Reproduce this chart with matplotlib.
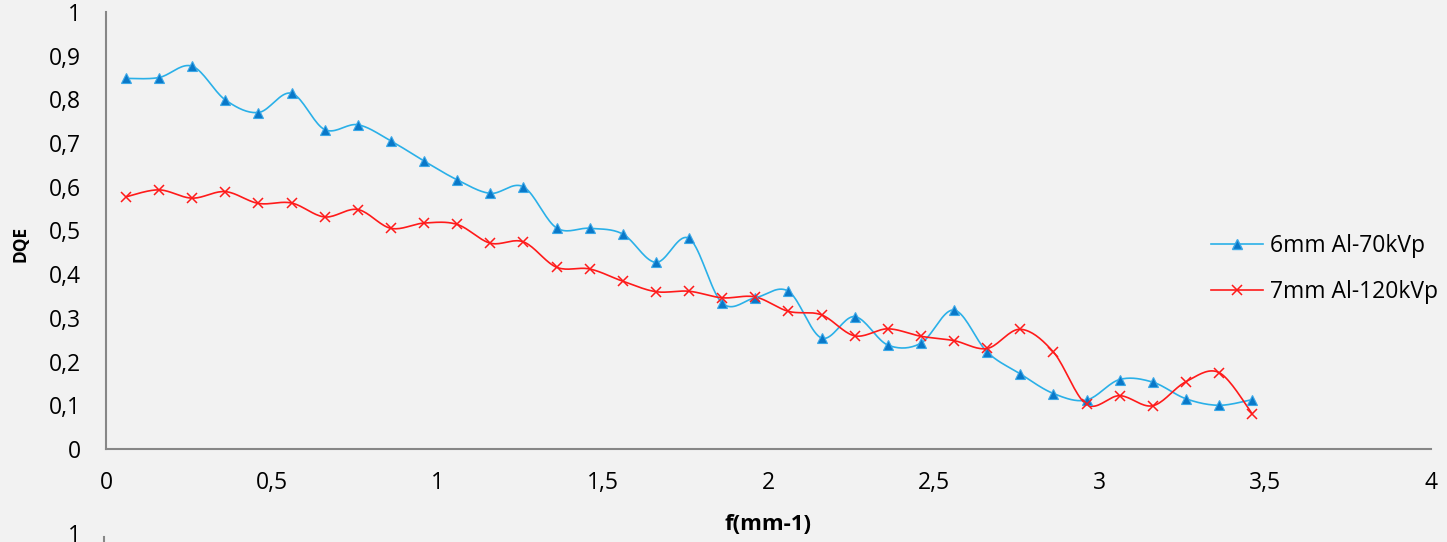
import numpy as np
import matplotlib.pyplot as plt
from matplotlib.lines import Line2D

# spatial frequency (mm-1)
freq = [0.06, 0.16, 0.26, 0.36, 0.46, 0.56, 0.66, 0.76, 0.86, 0.96,
        1.06, 1.16, 1.26, 1.36, 1.46, 1.56, 1.66, 1.76, 1.86, 1.96,
        2.06, 2.16, 2.26, 2.36, 2.46, 2.56, 2.66, 2.76, 2.86, 2.96,
        3.06, 3.16, 3.26, 3.36, 3.46]

dqe_6mm_70kvp = [0.848, 0.850, 0.876, 0.799, 0.770, 0.814, 0.731, 0.742, 0.705, 0.659,
                 0.616, 0.585, 0.600, 0.506, 0.505, 0.492, 0.427, 0.482, 0.334, 0.346,
                 0.361, 0.254, 0.303, 0.238, 0.242, 0.318, 0.222, 0.172, 0.127, 0.112,
                 0.159, 0.153, 0.115, 0.100, 0.113]

dqe_7mm_120kvp = [0.577, 0.593, 0.574, 0.589, 0.562, 0.563, 0.531, 0.548, 0.505, 0.517,
                  0.514, 0.471, 0.474, 0.416, 0.412, 0.384, 0.360, 0.361, 0.346, 0.348,
                  0.315, 0.307, 0.259, 0.275, 0.258, 0.248, 0.230, 0.274, 0.222, 0.102,
                  0.122, 0.099, 0.154, 0.175, 0.081]

series_labels = ["6mm Al-70kVp", "7mm Al-120kVp"]

x_ticks = [0, 0.5, 1, 1.5, 2, 2.5, 3, 3.5, 4]
y_ticks = [0, 0.1, 0.2, 0.3, 0.4, 0.5, 0.6, 0.7, 0.8, 0.9, 1]

BG = "#f2f2f2"
FONT = "Open Sans"


def smooth(x, y, n=20):
    # excel style smoothed line (catmull-rom through the points)
    x = np.asarray(x, float)
    y = np.asarray(y, float)
    px = np.concatenate([[x[0]], x, [x[-1]]])
    py = np.concatenate([[y[0]], y, [y[-1]]])
    t = np.linspace(0, 1, n)[:, None]
    out_x, out_y = [], []
    for i in range(1, len(px) - 2):
        for p, out in ((px, out_x), (py, out_y)):
            p0, p1, p2, p3 = p[i - 1], p[i], p[i + 1], p[i + 2]
            seg = 0.5 * ((2 * p1) + (-p0 + p2) * t + (2 * p0 - 5 * p1 + 4 * p2 - p3) * t ** 2
                         + (-p0 + 3 * p1 - 3 * p2 + p3) * t ** 3)
            out.append(seg.ravel())
    return np.concatenate(out_x), np.concatenate(out_y)


def fmt(v):
    return ("%g" % v).replace(".", ",")


fig = plt.figure(figsize=(14.47, 5.42), dpi=100, facecolor=BG)
ax = fig.add_axes([106 / 1447, 1 - 449 / 542, (1431 - 106) / 1447, (449 - 12) / 542])
ax.set_facecolor(BG)

blue_line = "#2ab0e8"
blue_mark = "#0a78c8"
red = "#ff1a1a"

sx, sy = smooth(freq, dqe_6mm_70kvp)
ax.plot(sx, sy, color=blue_line, lw=1.2, zorder=2)
ax.plot(freq, dqe_6mm_70kvp, ls="none", marker="^", ms=7.5, color=blue_mark,
        mec="#3aa8e8", mew=0.8, zorder=3)

sx, sy = smooth(freq, dqe_7mm_120kvp)
ax.plot(sx, sy, color=red, lw=1.2, zorder=2)
ax.plot(freq, dqe_7mm_120kvp, ls="none", marker="x", ms=7, color=red, mew=1.1, zorder=3)

ax.set_xlim(0, 4)
ax.set_ylim(0, 1)
ax.set_xticks(x_ticks)
ax.set_xticklabels([fmt(v) for v in x_ticks])
ax.set_yticks(y_ticks)
ax.set_yticklabels([fmt(v) for v in y_ticks])
ax.tick_params(length=0, labelsize=16.5, colors="#000000")
ax.tick_params(axis="x", pad=16)
ax.tick_params(axis="y", pad=18)
for lab in ax.get_xticklabels() + ax.get_yticklabels():
    lab.set_family(FONT)

for side in ["top", "right"]:
    ax.spines[side].set_visible(False)
for side in ["left", "bottom"]:
    ax.spines[side].set_color("#878787")
    ax.spines[side].set_linewidth(1.5)
ax.spines["left"].set_zorder(1)

fig.text(21 / 1447, 1 - 244 / 542, "DQE", rotation=90, ha="center", va="center",
         fontsize=12.5, fontweight="bold", family=FONT)
fig.text(768 / 1447, 1 - 524 / 542, "f(mm-1)", ha="center", va="center",
         fontsize=16, fontweight="bold", family=FONT)

handles = [
    Line2D([], [], color=blue_line, lw=1.2, marker="^", ms=7, mfc=blue_mark, mec="#3aa8e8"),
    Line2D([], [], color=red, lw=1.2, marker="x", ms=6.5, mew=1.1),
]
leg = fig.legend(handles, series_labels, loc="center left",
                 bbox_to_anchor=(1190 / 1447, 1 - 269 / 542), frameon=False,
                 prop={"family": FONT, "size": 16.5}, handlelength=2.3,
                 handletextpad=0.3, labelspacing=1.0)

# top of the next chart peeking in at the bottom
fig.text(81 / 1447, 1 - 536 / 542, "1", ha="right", va="center", fontsize=16.5, family=FONT)
fig.add_artist(Line2D([104 / 1447, 104 / 1447], [0, 1 - 537 / 542], color="#878787", lw=1.5))

fig.savefig("out.png", dpi=100, facecolor=BG)
